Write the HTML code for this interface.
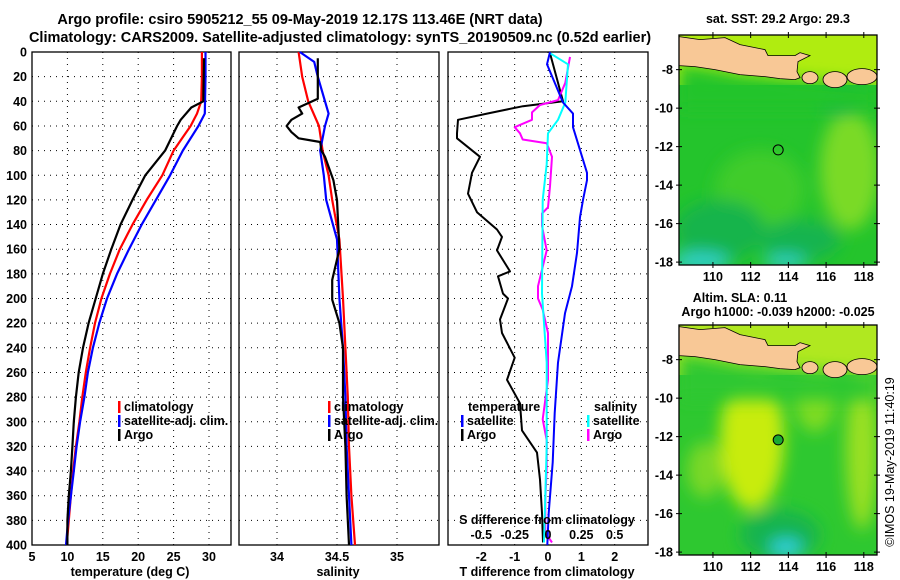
<!DOCTYPE html>
<html><head><meta charset="utf-8">
<style>
html,body{margin:0;padding:0;background:#fff;}
svg{display:block;font-family:"Liberation Sans",sans-serif;font-weight:bold;}
text{font-size:12.5px;fill:#000;}
.grid{stroke:#000;stroke-width:1;stroke-dasharray:1 5;fill:none;}
.frame{stroke:#000;stroke-width:1.3;fill:none;}
</style></head>
<body>
<svg id="chart" width="900" height="580" viewBox="0 0 900 580">
<defs>
<filter id="blur8" x="-50%" y="-50%" width="200%" height="200%"><feGaussianBlur stdDeviation="8"/></filter>
</defs>
<text x="300" y="24" text-anchor="middle" style="font-size:14.5px">Argo profile: csiro 5905212_55 09-May-2019 12.17S 113.46E (NRT data)</text>
<text x="340" y="42" text-anchor="middle" style="font-size:14.5px">Climatology: CARS2009. Satellite-adjusted climatology: synTS_20190509.nc (0.52d earlier)</text>
<g id="p1"></g>
<g id="p2"></g>
<g id="p3"></g>
<g id="m1"></g>
<g id="m2"></g>
<text x="778" y="23" text-anchor="middle">sat. SST: 29.2 Argo: 29.3</text>
<text x="740" y="302" text-anchor="middle">Altim. SLA: 0.11</text>
<text x="778" y="316" text-anchor="middle">Argo h1000: -0.039 h2000: -0.025</text>
<text transform="translate(894,462) rotate(-90)" text-anchor="middle" style="font-weight:normal;font-size:12.5px">©IMOS 19-May-2019 11:40:19</text>
</svg>
<script>
// ---- data ----
const depthTicks = [0,20,40,60,80,100,120,140,160,180,200,220,240,260,280,300,320,340,360,380,400];
const tempTicks = [5,10,15,20,25,30];
const salTicks = [34,34.5,35];
const salTickLabels = ["34","34.5","35"];
const tdiffTicks = [-2,-1,0,1,2];
const sdiffTicks = [-0.5,-0.25,0,0.25,0.5];
const sdiffTickLabels = ["-0.5","-0.25","0","0.25","0.5"];

const tClimDepth = [0,20,40,50,60,70,80,100,120,140,160,180,200,220,240,260,280,300,320,340,360,380,400];
const tClimVal   = [29.0,29.0,28.9,28.3,27.4,26.2,25.0,23.4,21.2,19.2,17.4,16.0,14.8,13.9,13.2,12.6,12.1,11.7,11.2,10.8,10.5,10.2,9.9];
const tSatDepth = [0,20,50,60,80,100,120,140,160,180,200,220,240,260,280,300,320,340,360,380,400];
const tSatVal   = [29.5,29.5,29.4,28.5,26.3,24.5,22.5,20.5,18.7,17.0,15.6,14.5,13.6,12.9,12.4,11.8,11.3,10.9,10.5,10.1,9.8];
const tArgoDepth = [5,40,45,55,60,80,100,120,140,160,180,200,220,240,260,280,300,320,340,360,380,400];
const tArgoVal   = [29.3,29.2,27.5,26.0,25.5,23.8,21.0,19.2,17.5,16.2,15.0,14.0,13.0,12.2,11.6,11.2,10.9,10.7,10.5,10.2,10.0,10.0];

const sClimDepth = [0,20,40,60,80,100,120,152,200,240,280,320,360,400];
const sClimVal   = [34.18,34.21,34.26,34.35,34.38,34.43,34.46,34.52,34.55,34.57,34.59,34.60,34.62,34.65];
const sSatDepth = [0,8,20,40,50,60,80,100,120,152,200,240,280,320,360,400];
const sSatVal   = [34.19,34.31,34.34,34.40,34.43,34.40,34.36,34.39,34.41,34.50,34.52,34.55,34.57,34.58,34.60,34.62];
const sArgoDepth = [5,38,45,50,55,60,65,70,73,80,85,104,120,160,185,201,220,240,280,320,360,400];
const sArgoVal   = [34.34,34.34,34.18,34.21,34.12,34.08,34.12,34.18,34.36,34.37,34.40,34.47,34.50,34.52,34.46,34.46,34.52,34.55,34.55,34.57,34.58,34.60];

const dtSatDepth = [0,10,41,50,61,98,104,120,134,163,190,212,252,293,333,374,400];
const dtSatVal   = [0.06,-0.03,0.45,0.75,0.75,1.17,1.17,1.05,0.96,0.87,0.72,0.51,0.30,0.20,0.14,0.02,-0.02];
const dtArgoDepth = [1,25,40,44,50,55,66,70,85,98,115,130,144,150,161,178,182,196,200,217,228,248,266,285,307,325,347,374,398];
const dtArgoVal   = [0.06,0.30,0.45,-0.75,-1.83,-2.70,-2.73,-2.73,-2.04,-2.28,-2.40,-2.13,-1.53,-1.38,-1.53,-1.14,-1.50,-1.35,-1.20,-1.44,-1.38,-1.00,-1.23,-0.84,-0.78,-0.33,-0.24,-0.18,-0.15];
const dsSatDepth = [1,10,41,55,66,91,120,196,252,320,398];
const dsSatVal   = [0.015,0.15,0.13,0.075,0.0,-0.01,-0.04,-0.045,-0.01,-0.01,-0.03];
const dsArgoDepth = [4,25,39,43,49,55,61,66,71,74,85,109,126,131,141,161,190,200,209,228,266,298,315,337,363,390,398];
const dsArgoVal   = [0.165,0.13,0.075,-0.06,-0.12,-0.12,-0.25,-0.21,-0.19,-0.01,0.03,0.015,0.0,-0.045,-0.045,-0.01,-0.075,-0.075,-0.04,0.0,0.0,-0.04,-0.01,-0.01,-0.02,-0.02,0.03];

const lonTicks = [110,112,114,116,118];
const latTicks = [-8,-10,-12,-14,-16,-18];
const argoLon = 113.46, argoLat = -12.17;

// ---- helpers ----
const NS='http://www.w3.org/2000/svg';
function mk(parent, tag, attrs, txt){const e=document.createElementNS(NS,tag);for(const k in attrs)e.setAttribute(k,attrs[k]);if(txt!==undefined)e.textContent=txt;parent.appendChild(e);return e;}
const Y0=52, Y1=545;
const yD = d => Y0 + d*(Y1-Y0)/400;
function lin(d0,d1,r0,r1){return v=>r0+(v-d0)*(r1-r0)/(d1-d0);}

function panel(g, x0, x1, gridVals, xs){
  for(const d of depthTicks){ if(d>0&&d<400){const l=mk(g,'line',{x1:x0,x2:x1,y1:yD(d),y2:yD(d),class:'grid'});
    
    }}
  for(const v of gridVals){const l=mk(g,'line',{x1:xs(v),x2:xs(v),y1:Y0,y2:Y1,class:'grid'});
    
    }
  const r=mk(g,'rect',{x:x0,y:Y0,width:x1-x0,height:Y1-Y0,class:'frame'});
  
  
}
function series(g, depths, vals, xs, color, w, name){
  const pts=depths.map((d,i)=>xs(vals[i]).toFixed(1)+','+yD(d).toFixed(1)).join(' ');
  const p=mk(g,'polyline',{points:pts,fill:'none',stroke:color,'stroke-width':w,'stroke-linejoin':'round'});
  
  
}
function legendEntry(g,x,y,color,label){
  const b=mk(g,'rect',{x:x,y:y-10,width:2.5,height:12,fill:color});
  
  
  const t=mk(g,'text',{x:x+6,y:y},label);
  
  
}

const svg=document.getElementById('chart');
for(const d of depthTicks){const t=mk(svg,'text',{x:27,y:yD(d)+4.5,'text-anchor':'end'},String(d));
  
  }

// panel 1 temperature
const p1=document.getElementById('p1');
const xT=lin(5,30,32,209);
panel(p1,32,231,[10,15,20,25,30],xT);
series(p1,tClimDepth,tClimVal,xT,'#ff0000',2.2,'temperature-climatology-line');
series(p1,tSatDepth,tSatVal,xT,'#0000ff',2.2,'temperature-satellite-line');
series(p1,tArgoDepth,tArgoVal,xT,'#000',2.2,'temperature-argo-line');
for(const v of tempTicks){const t=mk(p1,'text',{x:xT(v),y:561,'text-anchor':'middle'},String(v));
  
  }
let at=mk(p1,'text',{x:130,y:576,'text-anchor':'middle'},'temperature (deg C)');


legendEntry(p1,118,411,'#ff0000','climatology');
legendEntry(p1,118,425,'#0000ff','satellite-adj. clim.');
legendEntry(p1,118,439,'#000','Argo');

// panel 2 salinity
const p2=document.getElementById('p2');
const xS=lin(34,35,277,397);
panel(p2,239,439,salTicks,xS);
series(p2,sClimDepth,sClimVal,xS,'#ff0000',2.2,'salinity-climatology-line');
series(p2,sSatDepth,sSatVal,xS,'#0000ff',2.2,'salinity-satellite-line');
series(p2,sArgoDepth,sArgoVal,xS,'#000',2.2,'salinity-argo-line');
salTicks.forEach((v,i)=>{const t=mk(p2,'text',{x:xS(v),y:561,'text-anchor':'middle'},salTickLabels[i]);
  
  });
at=mk(p2,'text',{x:338,y:576,'text-anchor':'middle'},'salinity');


legendEntry(p2,328,411,'#ff0000','climatology');
legendEntry(p2,328,425,'#0000ff','satellite-adj. clim.');
legendEntry(p2,328,439,'#000','Argo');

// panel 3 differences
const p3=document.getElementById('p3');
const xdT=lin(-3,3,448,648);
const xdS=lin(-0.75,0.75,448,648);
panel(p3,448,648,tdiffTicks,xdT);
series(p3,dtArgoDepth,dtArgoVal,xdT,'#000',2,'tdiff-argo-line');
series(p3,dsArgoDepth,dsArgoVal,xdS,'#ff00ff',2,'sdiff-argo-line');
series(p3,dsSatDepth,dsSatVal,xdS,'#00ffff',2,'sdiff-satellite-line');
series(p3,dtSatDepth,dtSatVal,xdT,'#0000ff',2,'tdiff-satellite-line');
tdiffTicks.forEach(v=>{const t=mk(p3,'text',{x:xdT(v),y:561,'text-anchor':'middle'},String(v));
  
  });
at=mk(p3,'text',{x:547,y:576,'text-anchor':'middle'},'T difference from climatology');


at=mk(p3,'text',{x:547,y:524,'text-anchor':'middle'},'S difference from climatology');


sdiffTicks.forEach((v,i)=>{const t=mk(p3,'text',{x:xdS(v),y:539,'text-anchor':'middle'},sdiffTickLabels[i]);
  
  });
at=mk(p3,'text',{x:468,y:411},'temperature');


at=mk(p3,'text',{x:594,y:411},'salinity');


legendEntry(p3,461,425,'#0000ff','satellite');
legendEntry(p3,461,439,'#000','Argo');
legendEntry(p3,587,425,'#00ffff','satellite');
legendEntry(p3,587,439,'#ff00ff','Argo');

// maps
function drawMap(g, top, bottom, latTop, latBot, kind){
  const x0=679,x1=877;
  const xL=lin(108.2,118.7,x0,x1), yL=lin(latTop,latBot,top,bottom);
  const id='clip'+kind;
  const cp=mk(g,'clipPath',{id:id}); mk(cp,'rect',{x:x0,y:top,width:x1-x0,height:bottom-top});
  const c=mk(g,'g',{'clip-path':'url(#'+id+')'});
  const off=yL(-8)-70;
  if(kind==='sst'){
    mk(c,'rect',{x:x0,y:top,width:x1-x0,height:bottom-top,fill:'#24c42c'});
    const b=mk(c,'g',{filter:'url(#blur8)'});
    mk(b,'ellipse',{cx:850,cy:170,rx:30,ry:60,fill:'#7ada28'});
    mk(b,'ellipse',{cx:760,cy:190,rx:45,ry:40,fill:'#40cc2a'});
    mk(b,'ellipse',{cx:720,cy:230,rx:45,ry:30,fill:'#12b44c'});
    mk(b,'ellipse',{cx:800,cy:240,rx:40,ry:20,fill:'#14b450'});
    mk(b,'ellipse',{cx:700,cy:262,rx:30,ry:10,fill:'#30d0c8'});
    mk(b,'ellipse',{cx:785,cy:262,rx:22,ry:7,fill:'#30d0c8'});
    mk(b,'ellipse',{cx:840,cy:100,rx:20,ry:15,fill:'#14b450'});
    mk(c,'rect',{x:x0,y:top,width:x1-x0,height:50,fill:'#b0ec10'});
  } else {
    mk(c,'rect',{x:x0,y:top,width:x1-x0,height:bottom-top,fill:'#2ec830'});
    const b=mk(c,'g',{filter:'url(#blur8)'});
    mk(b,'ellipse',{cx:752,cy:440,rx:32,ry:70,fill:'#c8ec10'});
    mk(b,'ellipse',{cx:815,cy:400,rx:20,ry:32,fill:'#80dc24'});
    mk(b,'ellipse',{cx:862,cy:450,rx:16,ry:80,fill:'#9ae020'});
    mk(b,'ellipse',{cx:705,cy:470,rx:18,ry:28,fill:'#7ad828'});
    mk(b,'ellipse',{cx:780,cy:535,rx:40,ry:25,fill:'#14b450'});
    mk(b,'ellipse',{cx:786,cy:548,rx:16,ry:9,fill:'#30d0e0'});
    mk(c,'rect',{x:x0,y:top,width:x1-x0,height:50,fill:'#b0e820'});
  }
  // sea below land band
  const sea=[[679,64],[695,67],[715,70],[740,75],[765,77],[780,79],[795,80],[877,86],[877,110],[679,110]];
  const seaCol = kind==='sst' ? '#24c42c' : '#2ec830';
  mk(c,'polygon',{points:sea.map(p=>p[0]+','+(p[1]+off)).join(' '),fill:seaCol,filter:'url(#blur8)'});
  const java=[[679,37],[700,40],[725,38],[740,45],[765,50],[768,56],[795,56],[800,53],[810,56],[798,62],[797,72],[800,78],[795,80],[780,79],[765,77],[740,75],[715,70],[695,67],[679,66]];
  const land=mk(c,'polygon',{points:java.map(p=>p[0]+','+(p[1]+off)).join(' '),fill:'#f8c896',stroke:'#000','stroke-width':0.8});
  
  
  [[810,78,8,6],[835,80,12,8],[862,77,15,8]].forEach(e=>{
    const el=mk(c,'ellipse',{cx:e[0],cy:e[1]+off,rx:e[2],ry:e[3],fill:'#f8c896',stroke:'#000','stroke-width':0.8});
    
    });
  const fr=mk(g,'rect',{x:x0,y:top,width:x1-x0,height:bottom-top,class:'frame'});
  
  
  for(const lo of lonTicks){
    mk(g,'line',{x1:xL(lo),x2:xL(lo),y1:top-3,y2:top+3,stroke:'#000'});
    mk(g,'line',{x1:xL(lo),x2:xL(lo),y1:bottom-3,y2:bottom+3,stroke:'#000'});
    const t=mk(g,'text',{x:xL(lo),y:bottom+16,'text-anchor':'middle'},String(lo));
    
    }
  for(const la of latTicks){
    mk(g,'line',{x1:x0-3,x2:x0+3,y1:yL(la),y2:yL(la),stroke:'#000'});
    mk(g,'line',{x1:x1-3,x2:x1+3,y1:yL(la),y2:yL(la),stroke:'#000'});
    const t=mk(g,'text',{x:x0-6,y:yL(la)+4.5,'text-anchor':'end'},String(la));
    
    }
  const m=mk(g,'circle',{cx:xL(argoLon),cy:yL(argoLat),r:5,fill:kind==='sst'?'none':'#1aa832',stroke:'#000','stroke-width':1});
  
  
}
drawMap(document.getElementById('m1'),35,265,-6.2,-18.15,'sst');
drawMap(document.getElementById('m2'),325,555,-6.2,-18.15,'sla');
</script>
</body></html>
